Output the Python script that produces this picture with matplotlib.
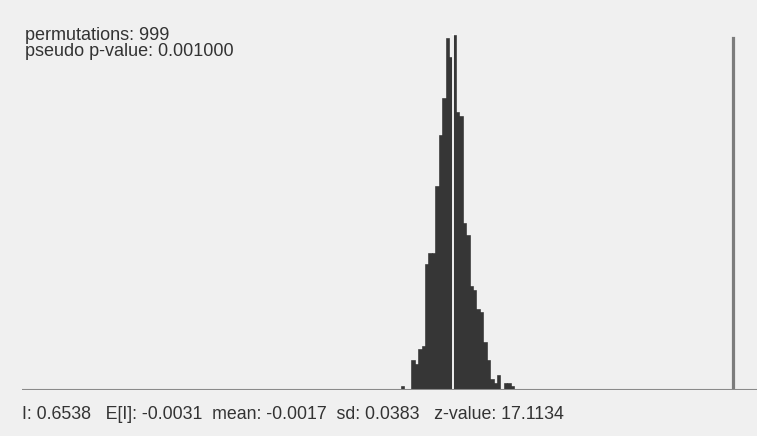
from matplotlib import pyplot as plt
import numpy as np

plt.rcParams["font.family"] = ["Liberation Sans", "DejaVu Sans"]

# permutation histogram (counts per bin)
counts = [1, 0, 0, 8, 7, 11, 12, 34, 37, 37, 55, 69, 79, 95, 90, 96, 75,
          74, 45, 42, 28, 27, 22, 21, 13, 8, 3, 2, 4, 0, 2, 2, 1]
sim_min = -0.1235
sim_max = 0.1416

moran_i = 0.6538
expected_i = -0.0031
mean_val = -0.0017
sd_val = 0.0383
z_value = 17.1134
permutations = 999
p_value = 0.001

edges = np.linspace(sim_min, sim_max, len(counts) + 1)
centers = (edges[:-1] + edges[1:]) / 2
width = edges[1] - edges[0]

W, H = 757, 436
fig = plt.figure(figsize=(W / 100, H / 100), dpi=100)
fig.patch.set_facecolor("#f0f0f0")
ax = fig.add_axes([22 / W, (H - 390) / H, 1 - 22 / W, 370 / H])
ax.set_facecolor("#f0f0f0")

ax.bar(centers, counts, width=width, color="#363636", edgecolor="#2a2a2a", linewidth=0.4)
# line at mean of the permutations
ax.plot([mean_val, mean_val], [0, max(counts)], color="white", linewidth=1.3)
# observed Moran's I
ax.plot([moran_i, moran_i], [0, 95], color="#7c7c7c", linewidth=2.3)
ax.axhline(0, color="#8a8a8a", linewidth=1.5)

ax.set_xlim(-1.0111, 0.7102)
ax.set_ylim(0, 100)
ax.set_xticks([])
ax.set_yticks([])
for s in ax.spines.values():
    s.set_visible(False)

fs = 13
fig.text(25 / W, 1 - 40 / H, "permutations: %d" % permutations, fontsize=fs,
         color="#333333", va="baseline")
fig.text(25 / W, 1 - 56 / H, "pseudo p-value: %.6f" % p_value, fontsize=fs,
         color="#333333", va="baseline")

info = "I: %.4f   E[I]: %.4f  mean: %.4f  sd: %.4f   z-value: %.4f" % (
    moran_i, expected_i, mean_val, sd_val, z_value)
fig.text(22 / W, 1 - 419 / H, info, fontsize=12.8, color="#333333", va="baseline")

fig.savefig("out.png", dpi=100, facecolor=fig.get_facecolor())
